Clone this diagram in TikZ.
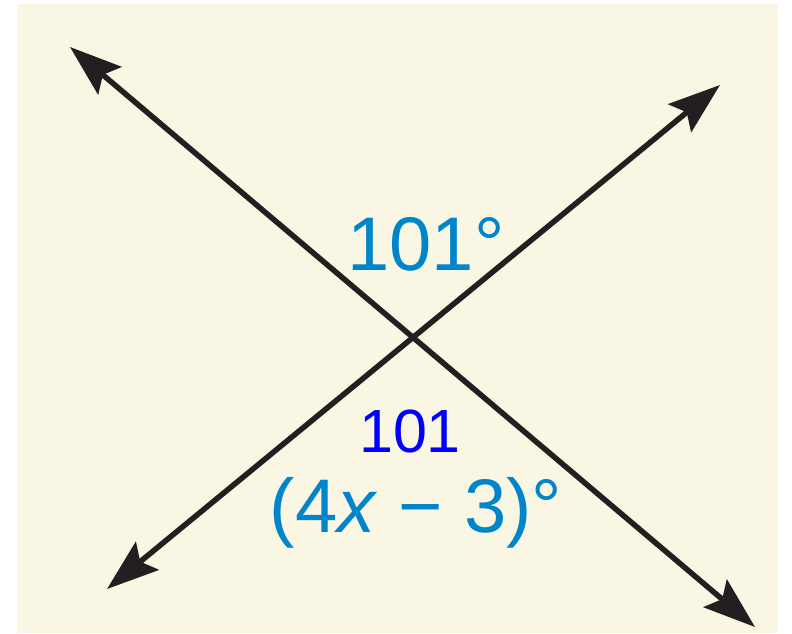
\documentclass[tikz,border=0pt]{standalone}
\usepackage{fontspec}
\setmainfont{Liberation Sans}
\usetikzlibrary{arrows.meta}
\definecolor{cream}{RGB}{249,246,228}
\definecolor{labelblue}{RGB}{0,133,202}
\definecolor{inkline}{RGB}{35,31,32}
\definecolor{penblue}{RGB}{0,0,255}
\tikzset{
  xline/.style={draw=inkline, line width=5.5pt,
    {Stealth[length=52pt,width=36pt,inset=9pt]}-{Stealth[length=52pt,width=36pt,inset=9pt]}},
  anglelabel/.style={text=labelblue, font=\fontsize{76}{80}\selectfont, anchor=base, inner sep=0pt},
  handnote/.style={text=penblue, font=\fontsize{61}{64}\selectfont, anchor=base, inner sep=0pt}
}
\begin{document}
\begin{tikzpicture}[x=1pt,y=-1pt]
  \useasboundingbox (0,0) rectangle (792,633);
  \fill[white] (0,0) rectangle (792,633);
  \fill[cream] (17,4) rectangle (778,633);
  \coordinate (A) at (70,47);
  \coordinate (B) at (755,627);
  \coordinate (C) at (720,85);
  \coordinate (D) at (107,589);
  \draw[xline] (A) -- (B);
  \draw[xline] (D) -- (C);
  \node[anglelabel] (top) at (426,270) {101°};
  \node[handnote] (note) at (410,452) {101};
  \node[anglelabel] (bottom) at (416,532) {(4\textit{x} − 3)°};
\end{tikzpicture}
\end{document}
